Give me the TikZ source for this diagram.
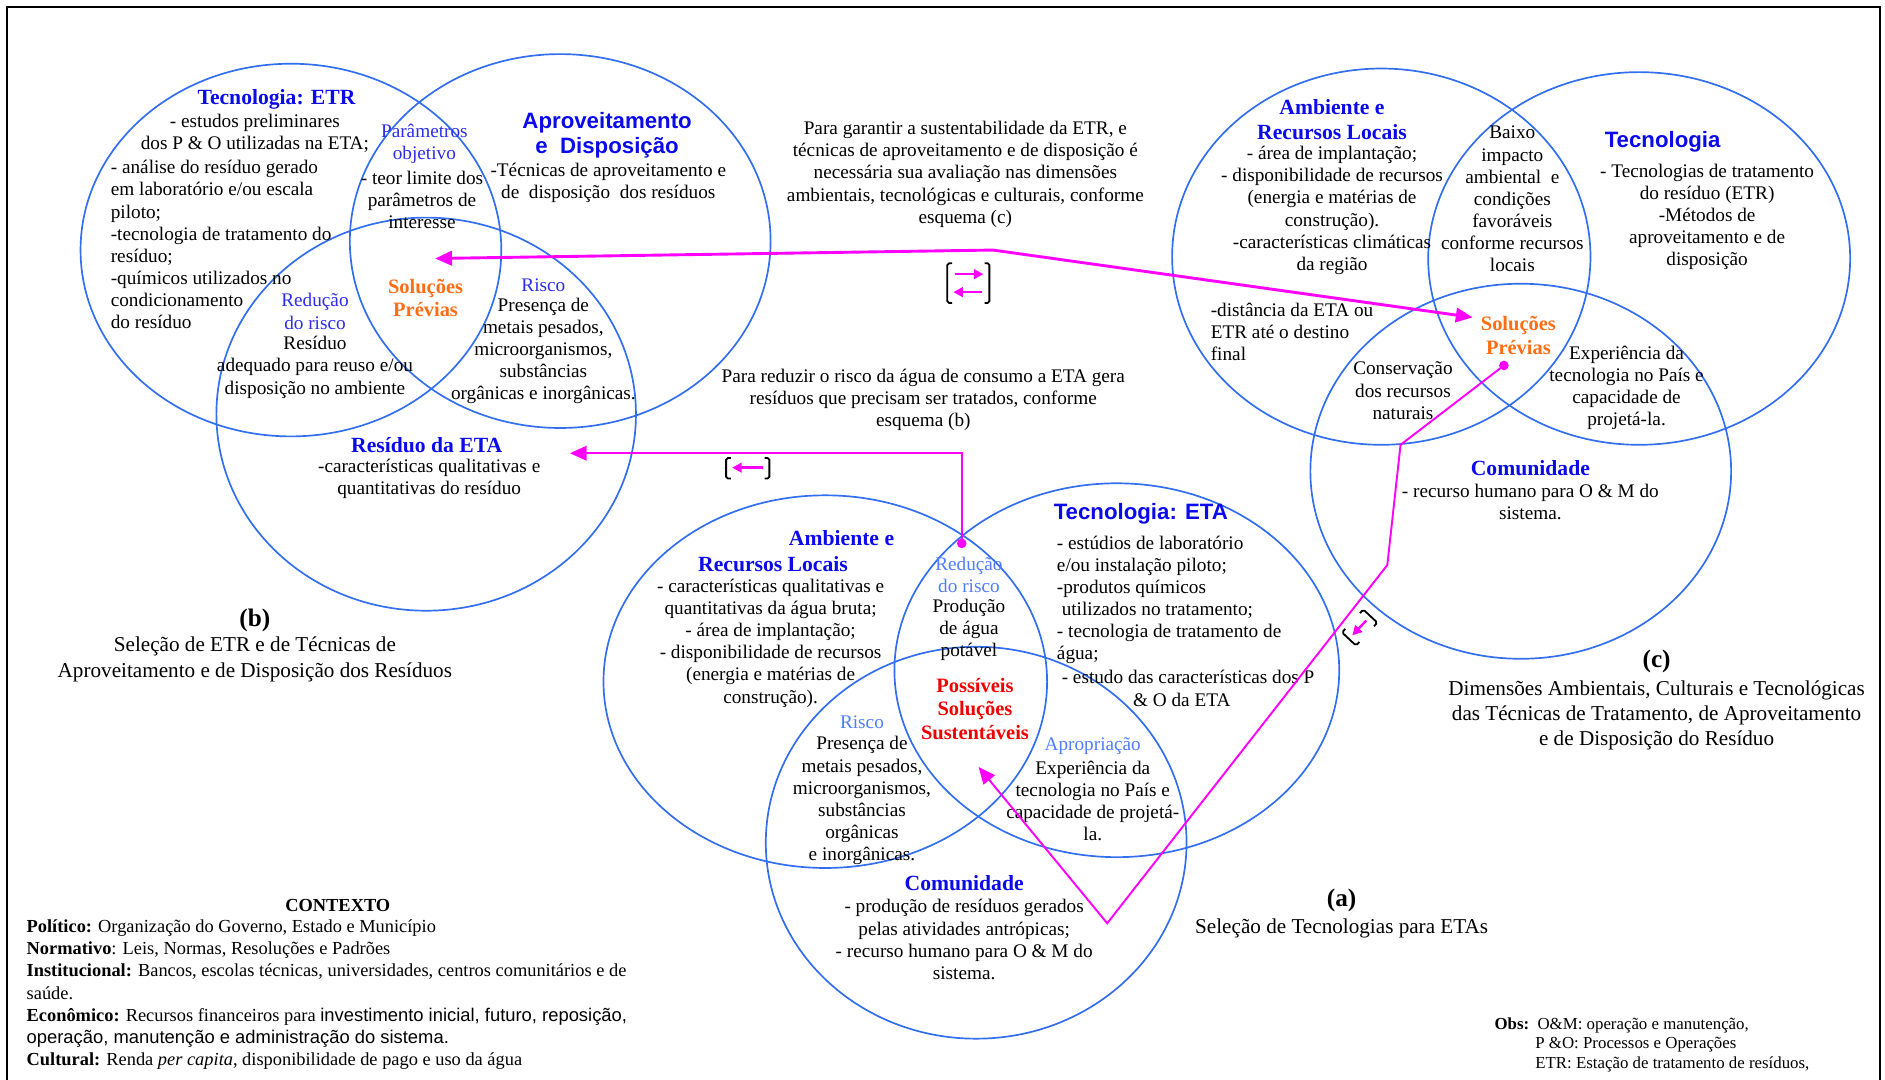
\documentclass[tikz,border=0pt]{standalone}
\usepackage{fontspec}
\setmainfont{Liberation Serif}
\newfontfamily\arialf{Liberation Sans}
\usetikzlibrary{arrows.meta,shapes.geometric}
\definecolor{eblue}{RGB}{50,110,240}
\definecolor{tblue}{RGB}{10,10,235}
\definecolor{lblue}{RGB}{45,45,235}
\definecolor{lblueA}{RGB}{80,125,255}
\definecolor{orng}{RGB}{255,110,20}
\definecolor{redT}{RGB}{240,0,0}
\definecolor{mag}{RGB}{255,0,255}
\begin{document}
\begin{tikzpicture}[x=1pt,y=-1pt,
  ell/.style={draw=eblue,line width=1.4pt,ellipse,inner sep=0pt},
  body/.style={font=\fontsize{16}{18.4}\selectfont,align=center,inner sep=0pt},
  bodyl/.style={body,align=left,anchor=west},
  ttl/.style={font=\fontsize{18}{21}\selectfont\bfseries,text=tblue,align=center,inner sep=0pt},
  sttl/.style={font=\arialf\fontsize{18.5}{21}\selectfont\bfseries,text=tblue,align=center,inner sep=0pt},
  lbl/.style={body,text=lblue},
  lblA/.style={body,text=lblueA},
  sol/.style={font=\fontsize{17}{19.6}\selectfont\bfseries,text=orng,align=center,inner sep=0pt},
  psol/.style={sol,text=redT},
  captxt/.style={font=\fontsize{17.6}{21}\selectfont,align=center,inner sep=0pt},
  labtxt/.style={font=\fontsize{21}{24}\selectfont\bfseries,inner sep=0pt},
  ctx/.style={font=\fontsize{15.3}{18.5}\selectfont,align=left,inner sep=0pt,anchor=west},
  obs/.style={font=\fontsize{14}{16.8}\selectfont,align=left,inner sep=0pt,anchor=west},
  magl/.style={draw=mag,line width=2.4pt},
  tip/.style={-{Triangle[length=14pt,width=12pt]}},
  smalltip/.style={-{Triangle[length=8pt,width=8pt]}},
  brkline/.style={draw=black,line width=1.5pt,rounded corners=1.5pt},
  dotm/.style={circle,fill=mag,inner sep=0pt,minimum size=8pt},
]
\useasboundingbox[fill=white] (0,0) rectangle (1568,898);
% frame
\draw[line width=1.8pt] (6,905) -- (6,5.5) -- (1564,5.5) -- (1564,905);

% ===== (b) =====
\node[ell,minimum width=350pt,minimum height=310pt] (E1) at (242,208) {};
\node[ell,minimum width=350pt,minimum height=311pt] (E2) at (466,200.5) {};
\node[ell,minimum width=349pt,minimum height=327pt] (E3) at (354.5,344.5) {};

\node[ttl] (bT1) at (230,83) {Tecnologia: ETR};
\node[body] (bT1a) at (212,111) {- estudos preliminares\\dos P \& O utilizadas na ETA;};
\node[bodyl] (bT1b) at (92,203.5) {- análise do resíduo gerado\\em laboratório e/ou escala\\piloto;\\-tecnologia de tratamento do\\resíduo;\\-químicos utilizados no\\condicionamento\\do resíduo};
\node[lbl] (bPo) at (353,119.5) {Parâmetros\\objetivo};
\node[body] (bPt) at (351,166.5) {- teor limite dos\\parâmetros de\\interesse};
\node[sttl] (bT2) at (505,112.5) {Aproveitamento\\e\ \ Disposição};
\node[body] (bT2a) at (506,152) {-Técnicas de aproveitamento e\\de\ \ disposição\ \ dos resíduos};
\node[sol] (bSP) at (354,248) {Soluções\\Prévias};
\node[lbl] (bRr) at (262,259) {Redução\\do risco};
\node[body] (bRa) at (262,305.5) {Resíduo\\adequado para reuso e/ou\\disposição no ambiente};
\node[lbl] (bRi) at (452,237) {Risco};
\node[body] (bRia) at (452,292) {Presença de\\metais pesados,\\microorganismos,\\substâncias\\orgânicas e inorgânicas.};
\node[ttl] (bT3) at (355,370) {Resíduo da ETA};
\node[body] (bT3a) at (357,398) {-características qualitativas e\\quantitativas do resíduo};
\node[labtxt] (bL) at (212,516) {(b)};
\node[captxt] (bC) at (212,548.5) {Seleção de ETR e de Técnicas de\\Aproveitamento e de Disposição dos Resíduos};

% ===== middle texts =====
\node[body] (mG) at (803,145) {Para garantir a sustentabilidade da ETR, e\\técnicas de aproveitamento e de disposição é\\necessária sua avaliação nas dimensões\\ambientais, tecnológicas e culturais, conforme\\esquema (c)};
\node[body] (mR) at (768,332.5) {Para reduzir o risco da água de consumo a ETA gera\\resíduos que precisam ser tratados, conforme\\esquema (b)};

% ===== (a) =====
\node[ell,minimum width=369pt,minimum height=310pt] (A1) at (686.5,567) {};
\node[ell,minimum width=370pt,minimum height=311pt] (A2) at (929,557.5) {};
\node[ell,minimum width=350pt,minimum height=326pt] (A3) at (812,701) {};

\node[ttl] (aT1) at (700,448) {Ambiente e};
\node[ttl] (aT1b) at (643,469) {Recursos Locais};
\node[body] (aT1a) at (641,535) {- características qualitativas e\\quantitativas da água bruta;\\- área de implantação;\\- disponibilidade de recursos\\(energia e matérias de\\construção).};
\node[lblA] (aRr) at (806,478) {Redução\\do risco};
\node[body] (aRp) at (806,524) {Produção\\de água\\potável};
\node[sttl] (aT2) at (949,427) {Tecnologia: ETA};
\node[bodyl] (aT2a) at (879,499) {- estúdios de laboratório\\e/ou instalação piloto;\\-produtos químicos\\\hspace{4pt}utilizados no tratamento;\\- tecnologia de tratamento de\\água;};
\node[bodyl] (aT2b) at (883,563) {- estudo das características dos P};
\node[body] (aT2c) at (983,582) {\& O da ETA};
\node[psol] (aPS) at (811,589.5) {Possíveis\\Soluções\\Sustentáveis};
\node[lblA] (aRi) at (717,601) {Risco};
\node[body] (aRia) at (717,666) {Presença de\\metais pesados,\\microorganismos,\\substâncias\\orgânicas\\e inorgânicas.};
\node[lblA] (aAp) at (909,621) {Apropriação};
\node[body] (aApa) at (909,666.5) {Experiência da\\tecnologia no País e\\capacidade de projetá-\\la.};
\node[ttl] (aT3) at (802,735) {Comunidade};
\node[body] (aT3a) at (802,781.5) {- produção de resíduos gerados\\pelas atividades antrópicas;\\- recurso humano para O \& M do\\sistema.};
\node[labtxt] (aL) at (1116,749) {(a)};
\node[captxt] (aC) at (1116,772) {Seleção de Tecnologias para ETAs};

% ===== (c) =====
\node[ell,minimum width=348pt,minimum height=313pt] (C1) at (1149,213.5) {};
\node[ell,minimum width=351pt,minimum height=310pt] (C2) at (1363.5,215) {};
\node[ell,minimum width=350pt,minimum height=312pt] (C3) at (1265,392) {};

\node[ttl] (cT1) at (1108,99.5) {Ambiente e\\Recursos Locais};
\node[body] (cT1a) at (1108,175) {- área de implantação;\\- disponibilidade de recursos\\(energia e matérias de\\construção).\\-características climáticas\\da região};
\node[body] (cBx) at (1258,165.5) {Baixo\\impacto\\ambiental\ \ e\\condições\\favoráveis\\conforme recursos\\locais};
\node[sttl] (cT2) at (1383,118) {Tecnologia};
\node[body] (cT2a) at (1420,180.5) {- Tecnologias de tratamento\\do resíduo (ETR)\\-Métodos de\\aproveitamento e de\\disposição};
\node[bodyl] (cDi) at (1007,276) {-distância da ETA ou\\ETR até o destino\\final};
\node[sol] (cSP) at (1263,279) {Soluções\\Prévias};
\node[body] (cCo) at (1167,325) {Conservação\\dos recursos\\naturais};
\node[body] (cEx) at (1353,322.5) {Experiência da\\tecnologia no País e\\capacidade de\\projetá-la.};
\node[ttl] (cT3) at (1273,389) {Comunidade};
\node[body] (cT3a) at (1273,417.5) {- recurso humano para O \& M do\\sistema.};
\node[labtxt] (cL) at (1378,550) {(c)};
\node[captxt] (cC) at (1378,595) {Dimensões Ambientais, Culturais e Tecnológicas\\das Técnicas de Tratamento, de Aproveitamento\\e de Disposição do Resíduo};

% ===== contexto =====
\node[font=\fontsize{15.3}{18.5}\selectfont\bfseries,inner sep=0pt] (ctxT) at (281,753) {CONTEXTO};
\node[ctx] (ctxB) at (22,827.5) {\textbf{Político:} Organização do Governo, Estado e Município\\
\textbf{Normativo}: Leis, Normas, Resoluções e Padrões\\
\textbf{Institucional:} Bancos, escolas técnicas, universidades, centros comunitários e de\\
saúde.\\
\textbf{Econômico:} Recursos financeiros para {\arialf investimento inicial, futuro, reposição,}\\
{\arialf operação, manutenção e administração do sistema.}\\
\textbf{Cultural:} Renda \textit{per capita}, disponibilidade de pago e uso da água};

% ===== obs =====
\node[obs] (ob1) at (1243,853) {\textbf{Obs:}\ \ O\&M: operação e manutenção,};
\node[obs] (ob2) at (1277,877.5) {P \&O: Processos e Operações\\ETR: Estação de tratamento de resíduos,};

% ===== magenta connectors =====
\coordinate (m1) at (826,208);
\coordinate (t1) at (362,215);
\coordinate (t2) at (1225,264);
\draw[magl,tip] (m1) -- (t1);
\draw[magl,tip] (m1) -- (t2);

\node[dotm] (d2) at (800,452) {};
\coordinate (k2) at (800,377);
\coordinate (t3) at (474,377);
\draw[draw=mag,line width=2pt,tip] (d2.center) -- (k2) -- (t3);

\node[dotm] (d3) at (1251,304) {};
\coordinate (k3a) at (1165,370);
\coordinate (k3b) at (1154,470);
\coordinate (k3c) at (921,768);
\coordinate (t4) at (814,638);
\draw[draw=mag,line width=1.6pt,tip] (d3.center) -- (k3a) -- (k3b) -- (k3c) -- (t4);

% ===== bracket symbols =====
\draw[brkline] (792,219) -- (788,219) -- (788,252) -- (792,252);
\draw[brkline] (819,219) -- (823,219) -- (823,252) -- (819,252);
\draw[draw=mag,line width=2pt,smalltip] (794,228) -- (818,228);
\draw[draw=mag,line width=2pt,smalltip] (817,243) -- (793,243);

\draw[brkline] (608,381) -- (604,381) -- (604,398) -- (608,398);
\draw[brkline] (636,381) -- (640,381) -- (640,398) -- (636,398);
\draw[draw=mag,line width=2pt,smalltip] (635,389) -- (609,389);

\begin{scope}[shift={(1131,522)},rotate=47]
\draw[brkline] (-9,-8) -- (-13,-8) -- (-13,8) -- (-9,8);
\draw[brkline] (9,-8) -- (13,-8) -- (13,8) -- (9,8);
\draw[draw=mag,line width=2pt,smalltip] (8,0) -- (-9,0);
\end{scope}
\end{tikzpicture}
\end{document}
